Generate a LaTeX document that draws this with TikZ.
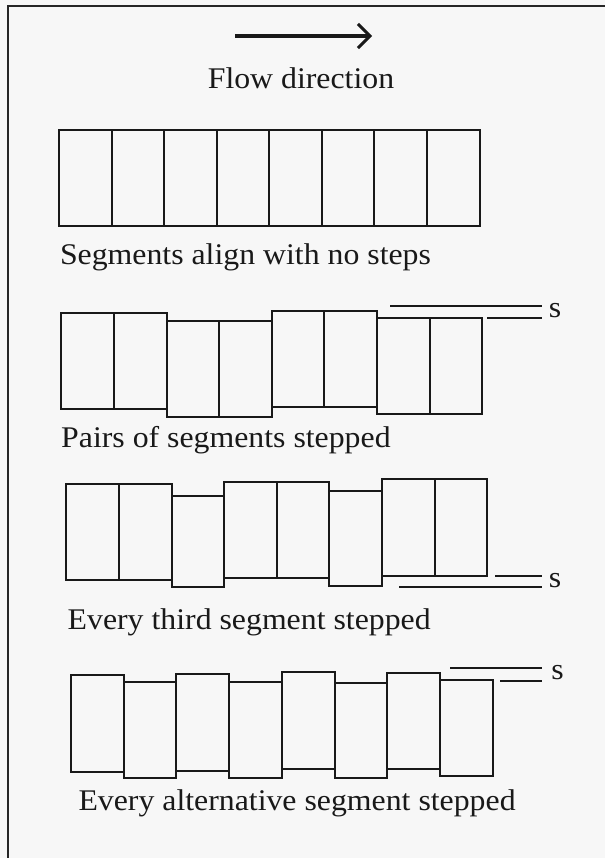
\documentclass[tikz,border=0pt]{standalone}
\usepackage{fontspec}
\setmainfont{Liberation Serif}[FakeStretch=1.06]
\usetikzlibrary{arrows.meta}
\tikzset{
  segbox/.style={draw=black!90, line width=2pt},
  sline/.style={draw=black!90, line width=1.8pt},
  lbl/.style={inner sep=0pt, font=\fontsize{30}{34}\selectfont, text=black!90},
  framel/.style={draw=black!85, line width=2pt},
}
\newcommand{\segrow}[1]{\foreach \xa/\ya/\xb/\yb in {#1} {\draw[segbox] (\xa,\ya) rectangle (\xb,\yb);}}
\begin{document}
\begin{tikzpicture}[x=1pt,y=-1pt]
\useasboundingbox (0,0) rectangle (605,858);
\fill[black!3] (0,0) rectangle (605,858);
% frame (left and top edges)
\draw[framel] (8,858) -- (8,6) -- (605,6);
% flow arrow
\coordinate (a0) at (235,36);
\coordinate (a1) at (372,36);
\draw[line width=4pt, draw=black!90, -{Straight Barb[length=12pt,width=24pt,line width=3pt]}] (a0) -- (a1);
\node[lbl, anchor=center] (flow) at (301,78) {Flow direction};
% row 1
\segrow{59/130/112/226, 112/130/164/226, 164/130/217/226, 217/130/269/226,
        269/130/322/226, 322/130/374/226, 374/130/427/226, 427/130/480/226}
\node[lbl, anchor=west] (l1) at (59.8,257) {Segments align with no steps};
% row 2
\segrow{61/313/114/409, 114/313/167/409,
        167/321/219/417, 219/321/272/417,
        272/311/324/407, 324/311/377/407,
        377/318/430/414, 430/318/482/414}
\coordinate (s2a) at (390,306);
\coordinate (s2b) at (542,306);
\coordinate (s2c) at (487,318);
\coordinate (s2d) at (542,318);
\draw[sline] (s2a) -- (s2b);
\draw[sline] (s2c) -- (s2d);
\node[lbl, anchor=center] (s2) at (555,311) {s};
\node[lbl, anchor=west] (l2) at (61,440) {Pairs of segments stepped};
% row 3
\segrow{66/484/119/580, 119/484/172/580,
        172/496/224/587,
        224/482/277/578, 277/482/329/578,
        329/491/382/586,
        382/479/435/576, 435/479/487/576}
\coordinate (s3a) at (495,576);
\coordinate (s3b) at (542,576);
\coordinate (s3c) at (399,587);
\coordinate (s3d) at (542,587);
\draw[sline] (s3a) -- (s3b);
\draw[sline] (s3c) -- (s3d);
\node[lbl, anchor=center] (s3) at (555,581) {s};
\node[lbl, anchor=west] (l3) at (67.5,622) {Every third segment stepped};
% row 4
\segrow{71/675/124/772, 124/682/176/778,
        176/674/229/771, 229/682/282/778,
        282/672/335/769, 335/683/387/778,
        387/673/440/769, 440/680/493/776}
\coordinate (s4a) at (450,668);
\coordinate (s4b) at (542,668);
\coordinate (s4c) at (500,681);
\coordinate (s4d) at (542,681);
\draw[sline] (s4a) -- (s4b);
\draw[sline] (s4c) -- (s4d);
\node[lbl, anchor=center] (s4) at (557.5,673) {s};
\node[lbl, anchor=west] (l4) at (78.3,803) {Every alternative segment stepped};
\end{tikzpicture}
\end{document}
